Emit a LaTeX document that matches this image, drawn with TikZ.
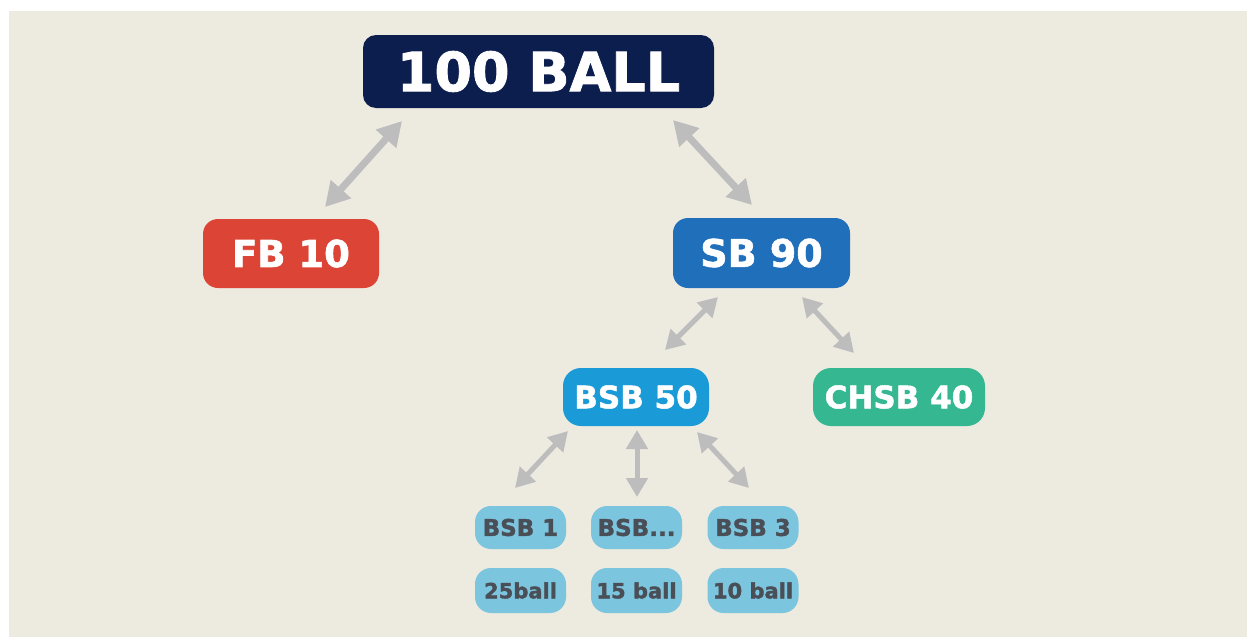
\documentclass[tikz,border=0pt]{standalone}
\usepackage{fontspec}
\setmainfont{DejaVu Sans}[BoldFeatures={FakeBold=1.6}]
\usetikzlibrary{arrows.meta}
\definecolor{bgpanel}{HTML}{EDEAE0}
\definecolor{navy}{HTML}{0C1E4E}
\definecolor{fbred}{HTML}{DC4536}
\definecolor{sbblue}{HTML}{1F6FBA}
\definecolor{bsbblue}{HTML}{1A9BD7}
\definecolor{chgreen}{HTML}{35B891}
\definecolor{smallbox}{HTML}{7CC5DF}
\definecolor{smalltext}{HTML}{4A4E56}
\definecolor{arrowgray}{HTML}{BDBDBD}
\tikzset{
  boxnode/.style={rectangle, inner sep=0pt, text=white, font=\bfseries},
  smallnode/.style={rectangle, inner sep=0pt, fill=smallbox, text=smalltext, rounded corners=16pt, minimum width=91pt},
  bigarrow/.style={draw=arrowgray, line width=7pt, {Triangle[length=24pt,width=26pt]}-{Triangle[length=24pt,width=26pt]}},
  smallarrow/.style={draw=arrowgray, line width=5pt, {Triangle[length=19pt,width=21pt]}-{Triangle[length=19pt,width=21pt]}}
}
\begin{document}
\begin{tikzpicture}[x=1pt,y=-1pt]
\useasboundingbox (0,0) rectangle (1247,637);
\fill[white] (0,0) rectangle (1247,637);
\fill[bgpanel] (9,11) rectangle (1247,637);

\node[boxnode, fill=navy, rounded corners=13pt, minimum width=351pt, minimum height=73pt, font=\bfseries\fontsize{54}{60}\selectfont] (top) at (538.5,71.5) {100 BALL};
\node[boxnode, fill=fbred, rounded corners=15pt, minimum width=176pt, minimum height=69pt, font=\bfseries\fontsize{37}{44}\selectfont] (fb) at (291,253.5) {FB 10};
\node[boxnode, fill=sbblue, rounded corners=15pt, minimum width=177pt, minimum height=70pt, font=\bfseries\fontsize{38}{44}\selectfont] (sb) at (761.5,253) {SB 90};
\node[boxnode, fill=bsbblue, rounded corners=18pt, minimum width=146pt, minimum height=58pt, font=\bfseries\fontsize{31}{36}\selectfont] (bsb) at (636,397) {BSB 50};
\node[boxnode, fill=chgreen, rounded corners=18pt, minimum width=172pt, minimum height=58pt, font=\bfseries\fontsize{31}{36}\selectfont] (chsb) at (899,397) {CHSB 40};

\node[smallnode, minimum height=43pt, font=\bfseries\fontsize{23}{28}\selectfont] (b1) at (520.5,527.5) {BSB 1};
\node[smallnode, minimum height=43pt, font=\bfseries\fontsize{23}{28}\selectfont] (b2) at (636.5,527.5) {BSB...};
\node[smallnode, minimum height=43pt, font=\bfseries\fontsize{23}{28}\selectfont] (b3) at (753,527.5) {BSB 3};
\node[smallnode, minimum height=45pt, font=\bfseries\fontsize{21}{26}\selectfont] (c1) at (520.5,590.5) {25ball};
\node[smallnode, minimum height=45pt, font=\bfseries\fontsize{21}{26}\selectfont] (c2) at (636.5,590.5) {15 ball};
\node[smallnode, minimum height=45pt, font=\bfseries\fontsize{21}{26}\selectfont] (c3) at (753,590.5) {10 ball};

\coordinate (a1s) at (402,121);
\coordinate (a1e) at (325,207);
\coordinate (a2s) at (673,120);
\coordinate (a2e) at (752,205);
\coordinate (a3s) at (718,297);
\coordinate (a3e) at (665,350);
\coordinate (a4s) at (802,297);
\coordinate (a4e) at (854,353);
\coordinate (a5s) at (568,431);
\coordinate (a5e) at (515,488);
\coordinate (a6s) at (637,430);
\coordinate (a6e) at (637,497);
\coordinate (a7s) at (697,432);
\coordinate (a7e) at (749,488);

\draw[bigarrow] (a1s) -- (a1e);
\draw[bigarrow] (a2s) -- (a2e);
\draw[smallarrow] (a3s) -- (a3e);
\draw[smallarrow] (a4s) -- (a4e);
\draw[smallarrow] (a5s) -- (a5e);
\draw[smallarrow] (a6s) -- (a6e);
\draw[smallarrow] (a7s) -- (a7e);
\end{tikzpicture}
\end{document}
